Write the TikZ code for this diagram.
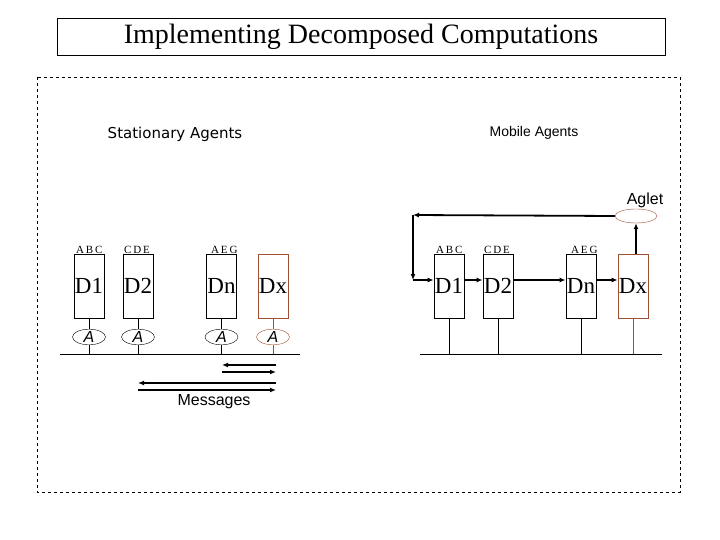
\documentclass[tikz,border=0pt]{standalone}
\usepackage{fontspec}
\setmainfont{Liberation Serif}
\newfontfamily\sansf{Liberation Sans}
\newfontfamily\monof{DejaVu Sans}
\usetikzlibrary{arrows.meta,shapes.geometric}
\definecolor{brn}{RGB}{160,80,50}
\begin{document}
\begin{tikzpicture}[x=1pt,y=-1pt,
 box/.style={draw,line width=0.8pt,minimum width=30pt,minimum height=64pt,inner sep=0pt,font=\fontsize{23}{23}\selectfont},
 ag/.style={draw,ellipse,minimum width=33pt,minimum height=15pt,inner sep=0pt,font=\sansf\itshape\fontsize{16}{16}\selectfont},
 lbl/.style={font=\fontsize{11}{11}\selectfont,anchor=south west,inner sep=0pt},
 arr/.style={line width=1.8pt,-{Latex[length=6pt,width=5pt]}},
 bus/.style={line width=0.8pt}]
\useasboundingbox (0,0) rectangle (720,540);
\node[draw,minimum width=608pt,minimum height=37pt,inner sep=0pt,font=\fontsize{28}{28}\selectfont] (title) at (361,36.5) {Implementing Decomposed Computations};
\draw[dashed,line width=0.7pt] (37,77) rectangle (680,492);
\node[font=\monof\fontsize{15}{15}\selectfont] (sa) at (175,134) {Stationary Agents};
\node[font=\sansf\fontsize{14}{14}\selectfont] (ma) at (534,133) {Mobile Agents};
% left
\node[box] (L1) at (89,286) {D1};
\node[box] (L2) at (138,286) {D2};
\node[box] (Ln) at (221.5,286) {Dn};
\node[box,draw=brn] (Lx) at (273,286) {Dx};
\node[lbl] (l1) at (76,254) {A\,B\,C};
\node[lbl] (l2) at (124,254) {C\,D\,E};
\node[lbl] (l3) at (211,254) {A\,E\,G};
\foreach \n/\x in {a1/89,a2/138,an/221.5}{\node[ag] (\n) at (\x,337) {A};}
\node[ag,draw=brn] (ax) at (273,337) {A};
\coordinate (bl1) at (60,354); \coordinate (bl2) at (300,354);
\draw[bus] (bl1) -- (bl2);
\foreach \b/\a in {L1/a1,L2/a2,Ln/an}{\draw[bus] (\b.south) -- (\a.north); \draw[bus] (\a.south) -- (\a.south|-bl1);}
\draw[bus,brn] (Lx.south) -- (ax.north); \draw[bus,brn] (ax.south) -- (ax.south|-bl1);
\coordinate (m1) at (276,365); \coordinate (m2) at (222,365);
\coordinate (m3) at (222,372); \coordinate (m4) at (276,372);
\coordinate (m5) at (276,383); \coordinate (m6) at (138,383);
\coordinate (m7) at (138,390); \coordinate (m8) at (276,390);
\draw[arr] (m1) -- (m2); \draw[arr] (m3) -- (m4);
\draw[arr] (m5) -- (m6); \draw[arr] (m7) -- (m8);
\node[font=\sansf\fontsize{16}{16}\selectfont] (msg) at (214,402) {Messages};
% right
\node[box] (R1) at (449,286) {D1};
\node[box] (R2) at (498,286) {D2};
\node[box] (Rn) at (581,286) {Dn};
\node[box,draw=brn] (Rx) at (633,286) {Dx};
\node[lbl] (r1) at (436,254) {A\,B\,C};
\node[lbl] (r2) at (484,254) {C\,D\,E};
\node[lbl] (r3) at (571,254) {A\,E\,G};
\node[draw=brn,ellipse,minimum width=42pt,minimum height=14pt,inner sep=0pt] (agl) at (636,216) {};
\node[font=\sansf\fontsize{16}{16}\selectfont] (agt) at (645,200) {Aglet};
\coordinate (br1) at (420,354); \coordinate (br2) at (662,354);
\draw[bus] (br1) -- (br2);
\foreach \b in {R1,R2,Rn}{\draw[bus] (\b.south) -- (\b.south|-br1);}
\draw[bus,brn] (Rx.south) -- (Rx.south|-br1);
\coordinate (c1) at (413,215); \coordinate (c2) at (413,280);
\draw[arr] (Rx.north-|agl.south) -- (agl.south);
\draw[arr] (agl.west) -- (c1);
\draw[arr] (c1) -- (c2);
\draw[arr] (c2) -- (R1.west|-c2);
\draw[arr] (R1.east|-c2) -- (R2.west|-c2);
\draw[arr] (R2.east|-c2) -- (Rn.west|-c2);
\draw[arr] (Rn.east|-c2) -- (Rx.west|-c2);
\end{tikzpicture}
\end{document}
